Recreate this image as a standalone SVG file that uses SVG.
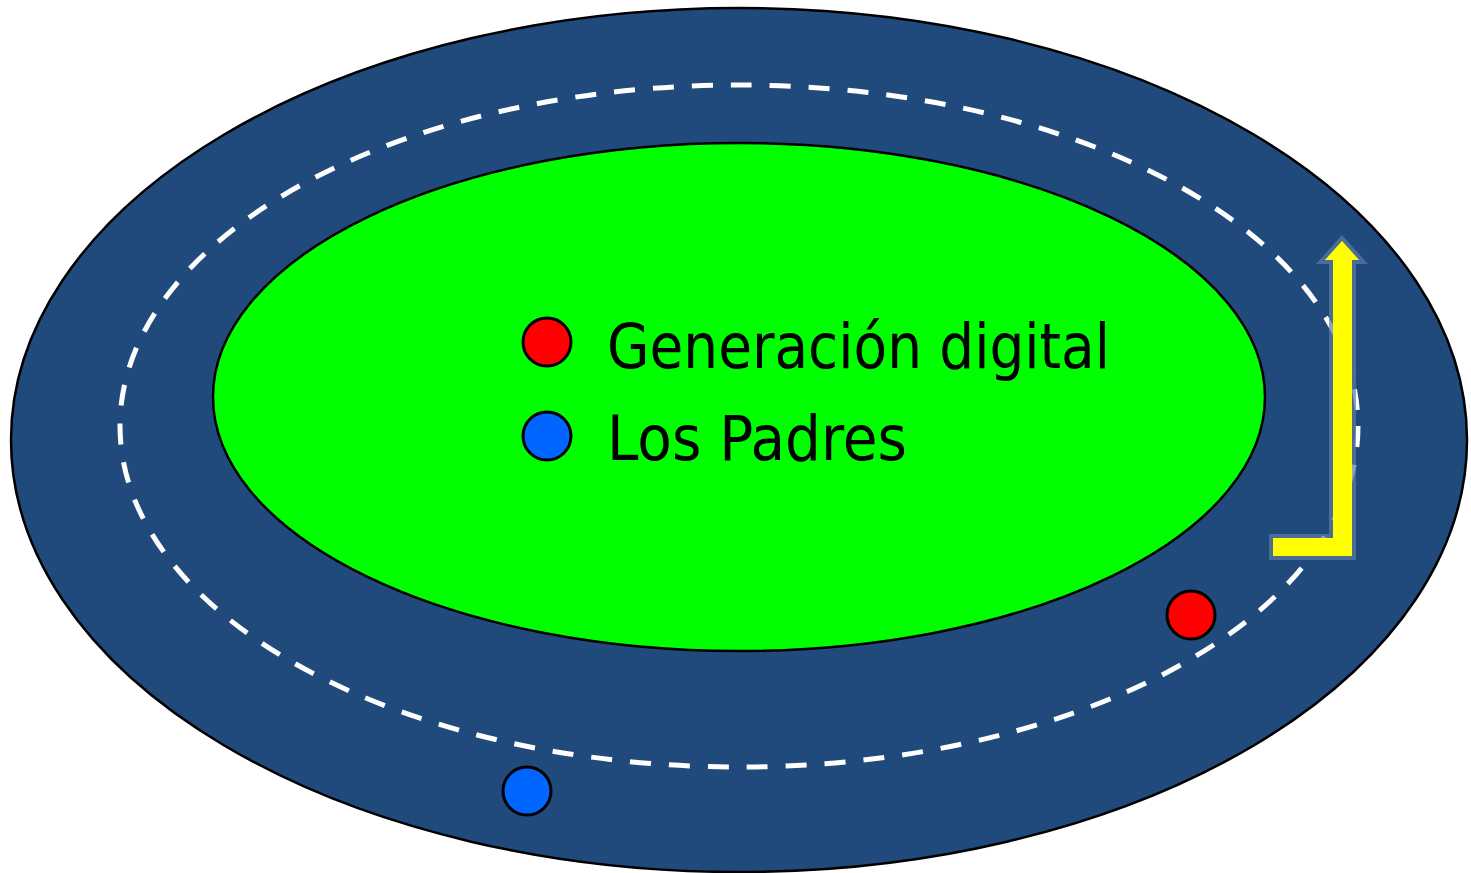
<svg xmlns="http://www.w3.org/2000/svg" width="1471" height="873" viewBox="0 0 1471 873">
<style>
.lbl{font-family:"DejaVu Sans Condensed","DejaVu Sans",sans-serif;font-size:62px;fill:#000}
.dot{stroke:#000;stroke-width:3}
</style>
<rect width="1471" height="873" fill="#fff"/>
<g id="outer"><ellipse cx="739" cy="440" rx="728" ry="432" fill="#214a7c" stroke="#000" stroke-width="2.5"/></g>
<g id="track"><ellipse cx="739" cy="426" rx="619" ry="341" fill="none" stroke="#fff" stroke-width="5" stroke-dasharray="21 18"/></g>
<g id="inner"><ellipse cx="739" cy="397" rx="526" ry="254" fill="#00ff00" stroke="#000" stroke-width="2.5"/></g>
<g id="legend">
<circle class="dot" cx="547" cy="342" r="24" fill="#ff0000"/>
<circle class="dot" cx="547" cy="436" r="24" fill="#0066ff"/>
<text class="lbl" x="607" y="368" textLength="503" lengthAdjust="spacingAndGlyphs">Generación digital</text>
<text class="lbl" x="607" y="460" textLength="300" lengthAdjust="spacingAndGlyphs">Los Padres</text>
</g>
<g id="runners">
<circle class="dot" cx="1191" cy="615" r="24" fill="#ff0000"/>
<circle class="dot" cx="527" cy="791" r="24" fill="#0066ff"/>
</g>
<g id="arrow">
<path d="M1273 538 L1333 538 L1333 260 L1325 260 L1342 241 L1359 260 L1352 260 L1352 556 L1273 556 Z" fill="#ffff00" stroke="#5d7ba3" stroke-opacity="0.7" stroke-width="8" stroke-linejoin="miter"/>
<path d="M1273 538 L1333 538 L1333 260 L1325 260 L1342 241 L1359 260 L1352 260 L1352 556 L1273 556 Z" fill="#ffff00"/>
</g>
</svg>
